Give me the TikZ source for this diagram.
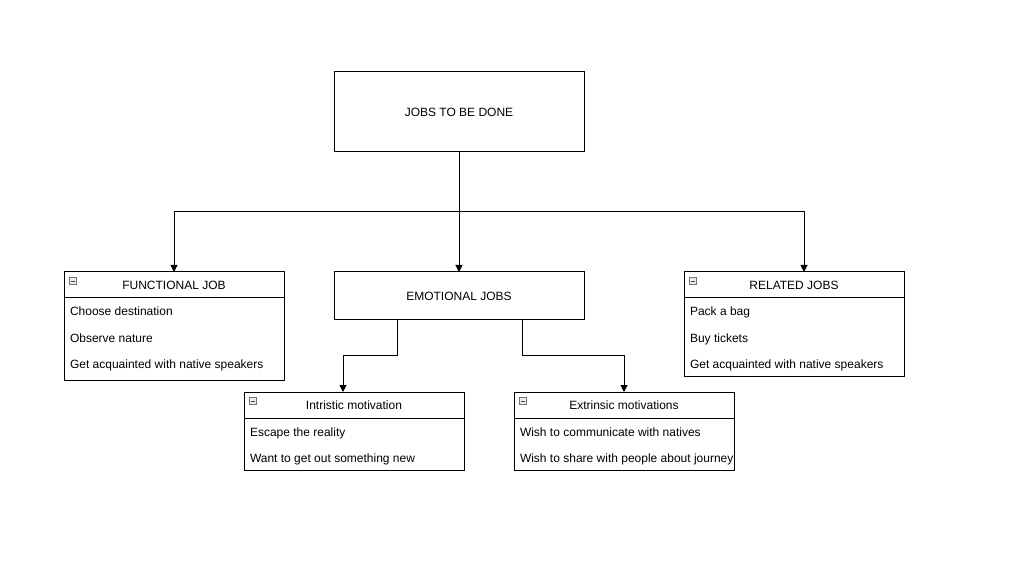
\documentclass[tikz,border=0pt]{standalone}
\usepackage{fontspec}
\setmainfont{Liberation Sans}
\usetikzlibrary{arrows.meta,positioning}
\tikzset{
  box/.style={draw,line width=1pt,minimum width=250,minimum height=80},
  head/.style={draw,line width=1pt,minimum width=220,minimum height=26,anchor=north west},
  body/.style={draw,line width=1pt,minimum width=220,anchor=north west},
  row/.style={anchor=base west},
  collapse/.style={draw=black!55,fill=black!8,line width=0.6pt,minimum width=7,minimum height=7,
    path picture={\draw[black!75,line width=0.8pt] ([xshift=1.6pt]path picture bounding box.west) -- ([xshift=-1.6pt]path picture bounding box.east);}},
  link/.style={line width=1pt,-{Triangle[length=7pt,width=7pt]}}
}
\begin{document}
\begin{tikzpicture}[x=1pt,y=-1pt,font=\fontsize{12}{14}\selectfont,every node/.append style={inner sep=0pt,outer sep=0pt}]
\useasboundingbox (0,0) rectangle (1013,572);
% main job
\node[box](jtbd) at (459,112){JOBS TO BE DONE};
\node[box,minimum height=48](emo) at (459,296){EMOTIONAL JOBS};
% functional
\node[head](func) at (64,272){FUNCTIONAL JOB};
\node[body,minimum height=82](func-body) at (func.south west){};
\node[collapse](func-icon) at (73,281){};
\node[row] at (70,316){Choose destination};
\node[row] at (70,342){Observe nature};
\node[row] at (70,368){Get acquainted with native speakers};
% related
\node[head](rel) at (684,272){RELATED JOBS};
\node[body,minimum height=78](rel-body) at (rel.south west){};
\node[collapse](rel-icon) at (693,281){};
\node[row] at (690,316){Pack a bag};
\node[row] at (690,342){Buy tickets};
\node[row] at (690,368){Get acquainted with native speakers};
% intristic
\node[head](intr) at (244,392){Intristic motivation};
\node[body,minimum height=52](intr-body) at (intr.south west){};
\node[collapse](intr-icon) at (253,401){};
\node[row] at (250,436){Escape the reality};
\node[row] at (250,462){Want to get out something new};
% extrinsic
\node[head](extr) at (514,392){Extrinsic motivations};
\node[body,minimum height=52](extr-body) at (extr.south west){};
\node[collapse](extr-icon) at (523,401){};
\node[row] at (520,436){Wish to communicate with natives};
\begin{scope}
\clip (extr-body.north west) rectangle ([xshift=-1pt]extr-body.south east);
\node[row] at (520,462){Wish to share with people about journey};
\end{scope}
% connectors
\coordinate(split) at (459,212);
\draw[link] (jtbd.south) -- (emo.north);
\draw[link] (split) -| (func.north);
\draw[link] (split) -| ([xshift=10pt]rel.north);
\draw[link] ([xshift=-62pt]emo.south) -- ++(0,36) -| ([xshift=-11pt]intr.north);
\draw[link] ([xshift=63pt]emo.south) -- ++(0,36) -| (extr.north);
\end{tikzpicture}
\end{document}
